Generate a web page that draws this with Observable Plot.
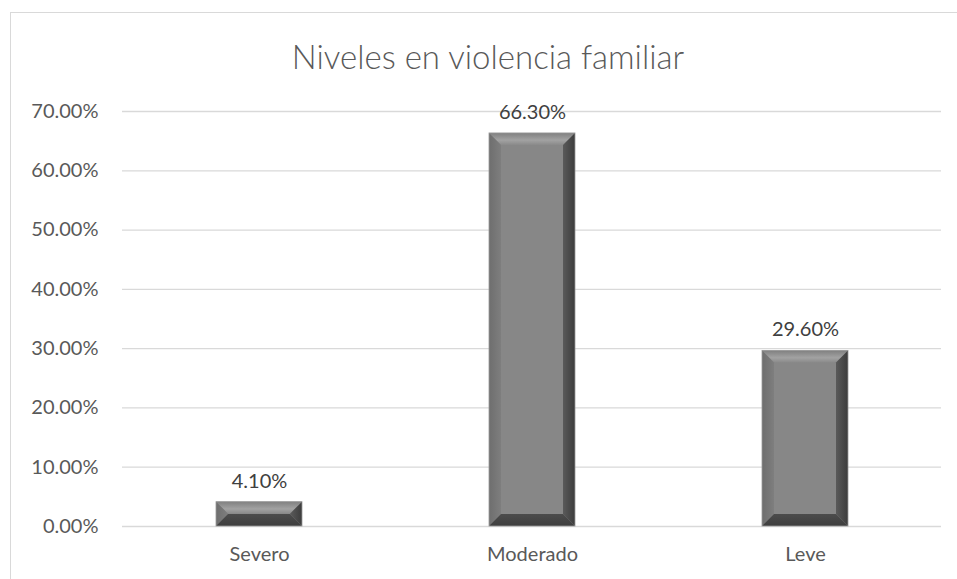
<!DOCTYPE html>
<html>
<head>
<meta charset="utf-8">
<script src="https://cdn.jsdelivr.net/npm/d3@7"></script>
<script src="https://cdn.jsdelivr.net/npm/@observablehq/plot@0.6"></script>
<style>
  html, body { margin: 0; padding: 0; background: #fff; overflow: hidden; width: 957px; height: 579px; }
  #frame { position: absolute; left: 10px; top: 12px; width: 1000px; height: 1000px; border: 1px solid #d9d9d9; }
  #title { position: absolute; left: 10px; width: 956px; top: 36px; text-align: center;
           font-family: Lato, "Open Sans", sans-serif; font-weight: 300; font-size: 33px; color: #595959; }
  #chart { position: absolute; left: 0; top: 0; }
</style>
</head>
<body>
<div id="frame"></div>
<div id="title">Niveles en violencia familiar</div>
<div id="chart"></div>
<script>
const categories = ["Severo", "Moderado", "Leve"];
const values = [0.041, 0.663, 0.296];
const valueLabels = ["4.10%", "66.30%", "29.60%"];
const yTicks = [0, 0.1, 0.2, 0.3, 0.4, 0.5, 0.6, 0.7];
const yTickLabels = ["0.00%", "10.00%", "20.00%", "30.00%", "40.00%", "50.00%", "60.00%", "70.00%"];

const data = categories.map((c, i) => ({cat: c, v: values[i], label: valueLabels[i]}));

function bevel(index, scales, vals, dims, context, next) {
  const g = next(index, scales, vals, dims, context);
  const rects = Array.from(g.querySelectorAll("rect"));
  const ns = "http://www.w3.org/2000/svg";
  const parent = rects.length ? rects[0].parentNode : g;
  const defs = document.createElementNS(ns, "defs");
  defs.innerHTML = `
    <linearGradient id="bvR" x1="0" x2="1" y1="0" y2="0">
      <stop offset="0" stop-color="#5a5a5a"/><stop offset="1" stop-color="#3c3c3c"/>
    </linearGradient>
    <linearGradient id="bvT" x1="0" x2="0" y1="0" y2="1">
      <stop offset="0" stop-color="#808080"/><stop offset="0.6" stop-color="#a2a2a2"/><stop offset="1" stop-color="#8a8a8a"/>
    </linearGradient>
    <linearGradient id="bvL" x1="0" x2="1" y1="0" y2="0">
      <stop offset="0" stop-color="#6e6e6e"/><stop offset="1" stop-color="#7e7e7e"/>
    </linearGradient>
    <linearGradient id="bvB" x1="0" x2="0" y1="0" y2="1">
      <stop offset="0" stop-color="#4c4c4c"/><stop offset="1" stop-color="#3e3e3e"/>
    </linearGradient>`;
  g.insertBefore(defs, g.firstChild);
  for (const r of rects) {
    const x = +r.getAttribute("x"), y = +r.getAttribute("y");
    const w = +r.getAttribute("width"), h = +r.getAttribute("height");
    const b = Math.min(12, h / 2, w / 2);
    const polys = [
      [[x, y], [x + w, y], [x + w - b, y + b], [x + b, y + b], "url(#bvT)"],
      [[x, y], [x + b, y + b], [x + b, y + h - b], [x, y + h], "url(#bvL)"],
      [[x + w, y], [x + w, y + h], [x + w - b, y + h - b], [x + w - b, y + b], "url(#bvR)"],
      [[x, y + h], [x + b, y + h - b], [x + w - b, y + h - b], [x + w, y + h], "url(#bvB)"]
    ];
    for (const p of polys) {
      const el = document.createElementNS(ns, "polygon");
      el.setAttribute("points", p.slice(0, 4).map(q => q.join(",")).join(" "));
      el.setAttribute("fill", p[4]);
      parent.appendChild(el);
    }
    const outline = document.createElementNS(ns, "rect");
    outline.setAttribute("x", x); outline.setAttribute("y", y);
    outline.setAttribute("width", w); outline.setAttribute("height", h);
    outline.setAttribute("fill", "none"); outline.setAttribute("stroke", "#9a9a9a");
    outline.setAttribute("stroke-width", 0.8);
    parent.appendChild(outline);
  }
  return g;
}

const chart = Plot.plot({
  width: 957,
  height: 579,
  marginLeft: 122,
  marginRight: 16,
  marginTop: 111,
  marginBottom: 53,
  style: {fontFamily: "Lato, 'Open Sans', sans-serif", fontSize: "20px", color: "#595959", background: "transparent"},
  x: {domain: categories, paddingInner: 0.685, paddingOuter: 0.3425, label: null},
  y: {domain: [0, 0.7], label: null},
  marks: [
    Plot.ruleY(yTicks, {stroke: "#d9d9d9", strokeWidth: 1.3, strokeOpacity: 1}),
    Plot.axisY({ticks: yTicks, tickFormat: (d) => yTickLabels[yTicks.indexOf(d)], tickSize: 0, tickPadding: 24, fontSize: 20, label: null}),
    Plot.axisX({tickSize: 0, tickPadding: 20, fontSize: 20, label: null}),
    Plot.barY(data, {x: "cat", y: "v", fill: "#878787", render: bevel}),
    Plot.text(data, {x: "cat", y: "v", text: "label", dy: -21, fontSize: 20, fill: "#404040", lineAnchor: "middle"})
  ]
});
document.getElementById("chart").appendChild(chart);
</script>
</body>
</html>
